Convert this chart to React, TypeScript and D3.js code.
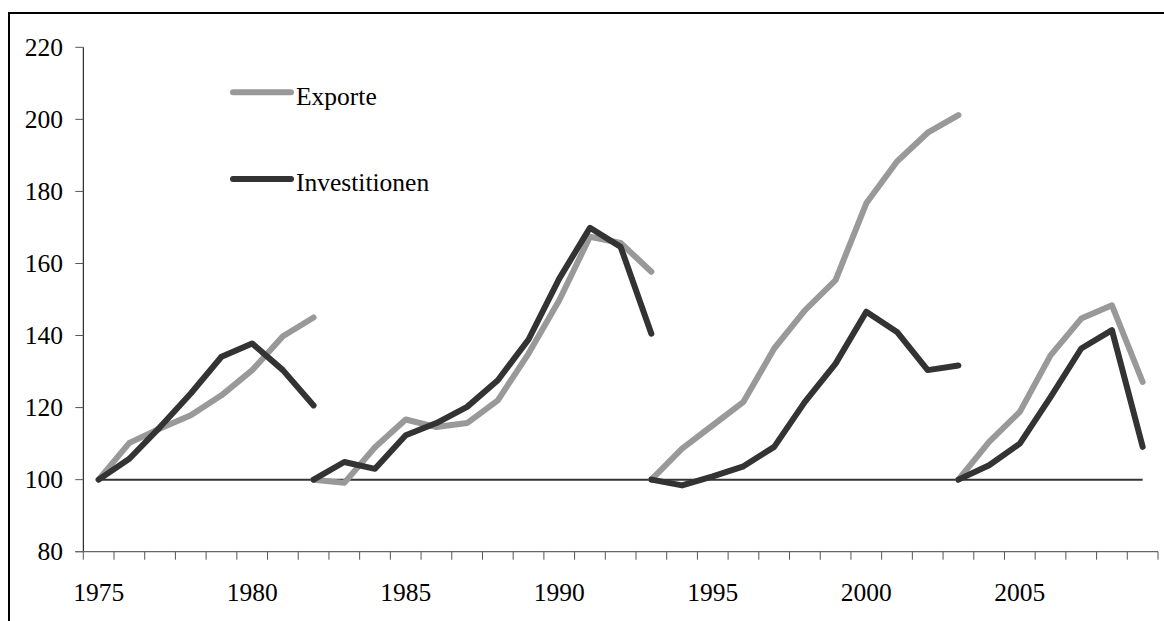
import React from "react";
import * as d3 from "d3";

const years = [
  1975, 1976, 1977, 1978, 1979, 1980, 1981, 1982, 1983, 1984, 1985, 1986,
  1987, 1988, 1989, 1990, 1991, 1992, 1993, 1994, 1995, 1996, 1997, 1998,
  1999, 2000, 2001, 2002, 2003, 2004, 2005, 2006, 2007, 2008, 2009,
];
const xTickLabels = [1975, 1980, 1985, 1990, 1995, 2000, 2005];
const yTicks = [80, 100, 120, 140, 160, 180, 200, 220];
const baselineValue = 100;

const cycleStartYears = [1975, 1982, 1993, 2003];

const exporteCycle1 = [100, 110.2, 114.2, 117.9, 123.4, 130.4, 139.8, 145.0];
const investCycle1 = [100, 105.8, 114.6, 123.9, 134.1, 137.8, 130.4, 120.6];

const exporteCycle2 = [100, 99.1, 109.0, 116.7, 114.6, 115.7, 122.0, 135.0, 149.8, 167.4, 165.7, 157.7];
const investCycle2 = [100, 104.9, 103.0, 112.3, 115.7, 120.2, 127.6, 138.9, 155.8, 169.9, 164.6, 140.5];

const exporteCycle3 = [100, 108.6, 115.1, 121.6, 136.4, 147.0, 155.4, 176.7, 188.3, 196.3, 201.2];
const investCycle3 = [100, 98.4, 100.9, 103.7, 109.1, 121.6, 132.2, 146.6, 141.0, 130.4, 131.7];

const exporteCycle4 = [100, 110.5, 118.8, 134.5, 144.7, 148.4, 127.1];
const investCycle4 = [100, 104.0, 110.0, 122.9, 136.4, 141.5, 109.1];

const exporteCycles = [exporteCycle1, exporteCycle2, exporteCycle3, exporteCycle4];
const investCycles = [investCycle1, investCycle2, investCycle3, investCycle4];

const seriesNames = ["Exporte", "Investitionen"];
const seriesColors = ["#999999", "#333333"];

const W = 1164;
const H = 621;
const FONT = "'Liberation Serif', 'Times New Roman', serif";
const FS = 25.5;

export default function App() {
  const plotLeft = 83.3;
  const plotRight = 1158;
  const plotTop = 47.3;
  const plotBottom = 551.7;

  const x = d3.scaleBand<number>().domain(years).range([plotLeft, plotRight]).padding(0);
  const bw = x.bandwidth();
  const cx = (yr: number) => (x(yr) as number) + bw / 2;
  const y = d3.scaleLinear().domain([80, 220]).range([plotBottom, plotTop]);

  const line = d3
    .line<[number, number]>()
    .x((d) => cx(d[0]))
    .y((d) => y(d[1]));

  const toPts = (start: number, vals: number[]) =>
    vals.map((v, i) => [start + i, v] as [number, number]);

  const baselinePts = years.map((yr) => [yr, baselineValue] as [number, number]);

  const boundaries = years.map((yr) => x(yr) as number).concat([plotRight]);

  return (
    <svg
      width={W}
      height={H}
      style={{ position: "absolute", left: 0, top: 0, background: "#fff" }}
      fontFamily={FONT}
    >
      <rect x={0} y={0} width={W} height={H} fill="#fff" />
      {/* frame */}
      <rect x={9} y={13} width={W + 20} height={H + 20} fill="none" stroke="#000" strokeWidth={2} />

      {/* y axis */}
      <line x1={plotLeft} x2={plotLeft} y1={plotTop} y2={plotBottom} stroke="#000" strokeWidth={1} />
      {yTicks.map((t) => (
        <g key={t}>
          <line x1={plotLeft - 8} x2={plotLeft} y1={y(t)} y2={y(t)} stroke="#555" strokeWidth={1} />
          <text x={63} y={y(t)} dy="0.33em" textAnchor="end" fontSize={FS} fill="#000">
            {t}
          </text>
        </g>
      ))}

      {/* x axis */}
      <line x1={plotLeft - 8} x2={plotRight} y1={plotBottom} y2={plotBottom} stroke="#666" strokeWidth={1.3} />
      {boundaries.map((b, i) => (
        <line key={i} x1={b} x2={b} y1={plotBottom} y2={plotBottom + 8} stroke="#555" strokeWidth={1} />
      ))}
      {xTickLabels.map((yr) => (
        <text key={yr} x={cx(yr)} y={600.7} textAnchor="middle" fontSize={FS} fill="#000">
          {yr}
        </text>
      ))}

      {/* baseline 100 */}
      <path d={line(baselinePts) || ""} fill="none" stroke="#333" strokeWidth={2} />

      {/* series */}
      {[exporteCycles, investCycles].map((cycles, si) =>
        cycles.map((vals, ci) => (
          <path
            key={`${si}-${ci}`}
            d={line(toPts(cycleStartYears[ci], vals)) || ""}
            fill="none"
            stroke={seriesColors[si]}
            strokeWidth={6}
            strokeLinecap="round"
            strokeLinejoin="round"
          />
        ))
      )}

      {/* legend */}
      {seriesNames.map((name, i) => {
        const ly = i === 0 ? 92.3 : 179;
        return (
          <g key={name}>
            <line x1={233} x2={291} y1={ly} y2={ly} stroke={seriesColors[i]} strokeWidth={6} strokeLinecap="round" />
            <text x={296} y={ly + 12.2} fontSize={FS} fill="#000">
              {name}
            </text>
          </g>
        );
      })}
    </svg>
  );
}
